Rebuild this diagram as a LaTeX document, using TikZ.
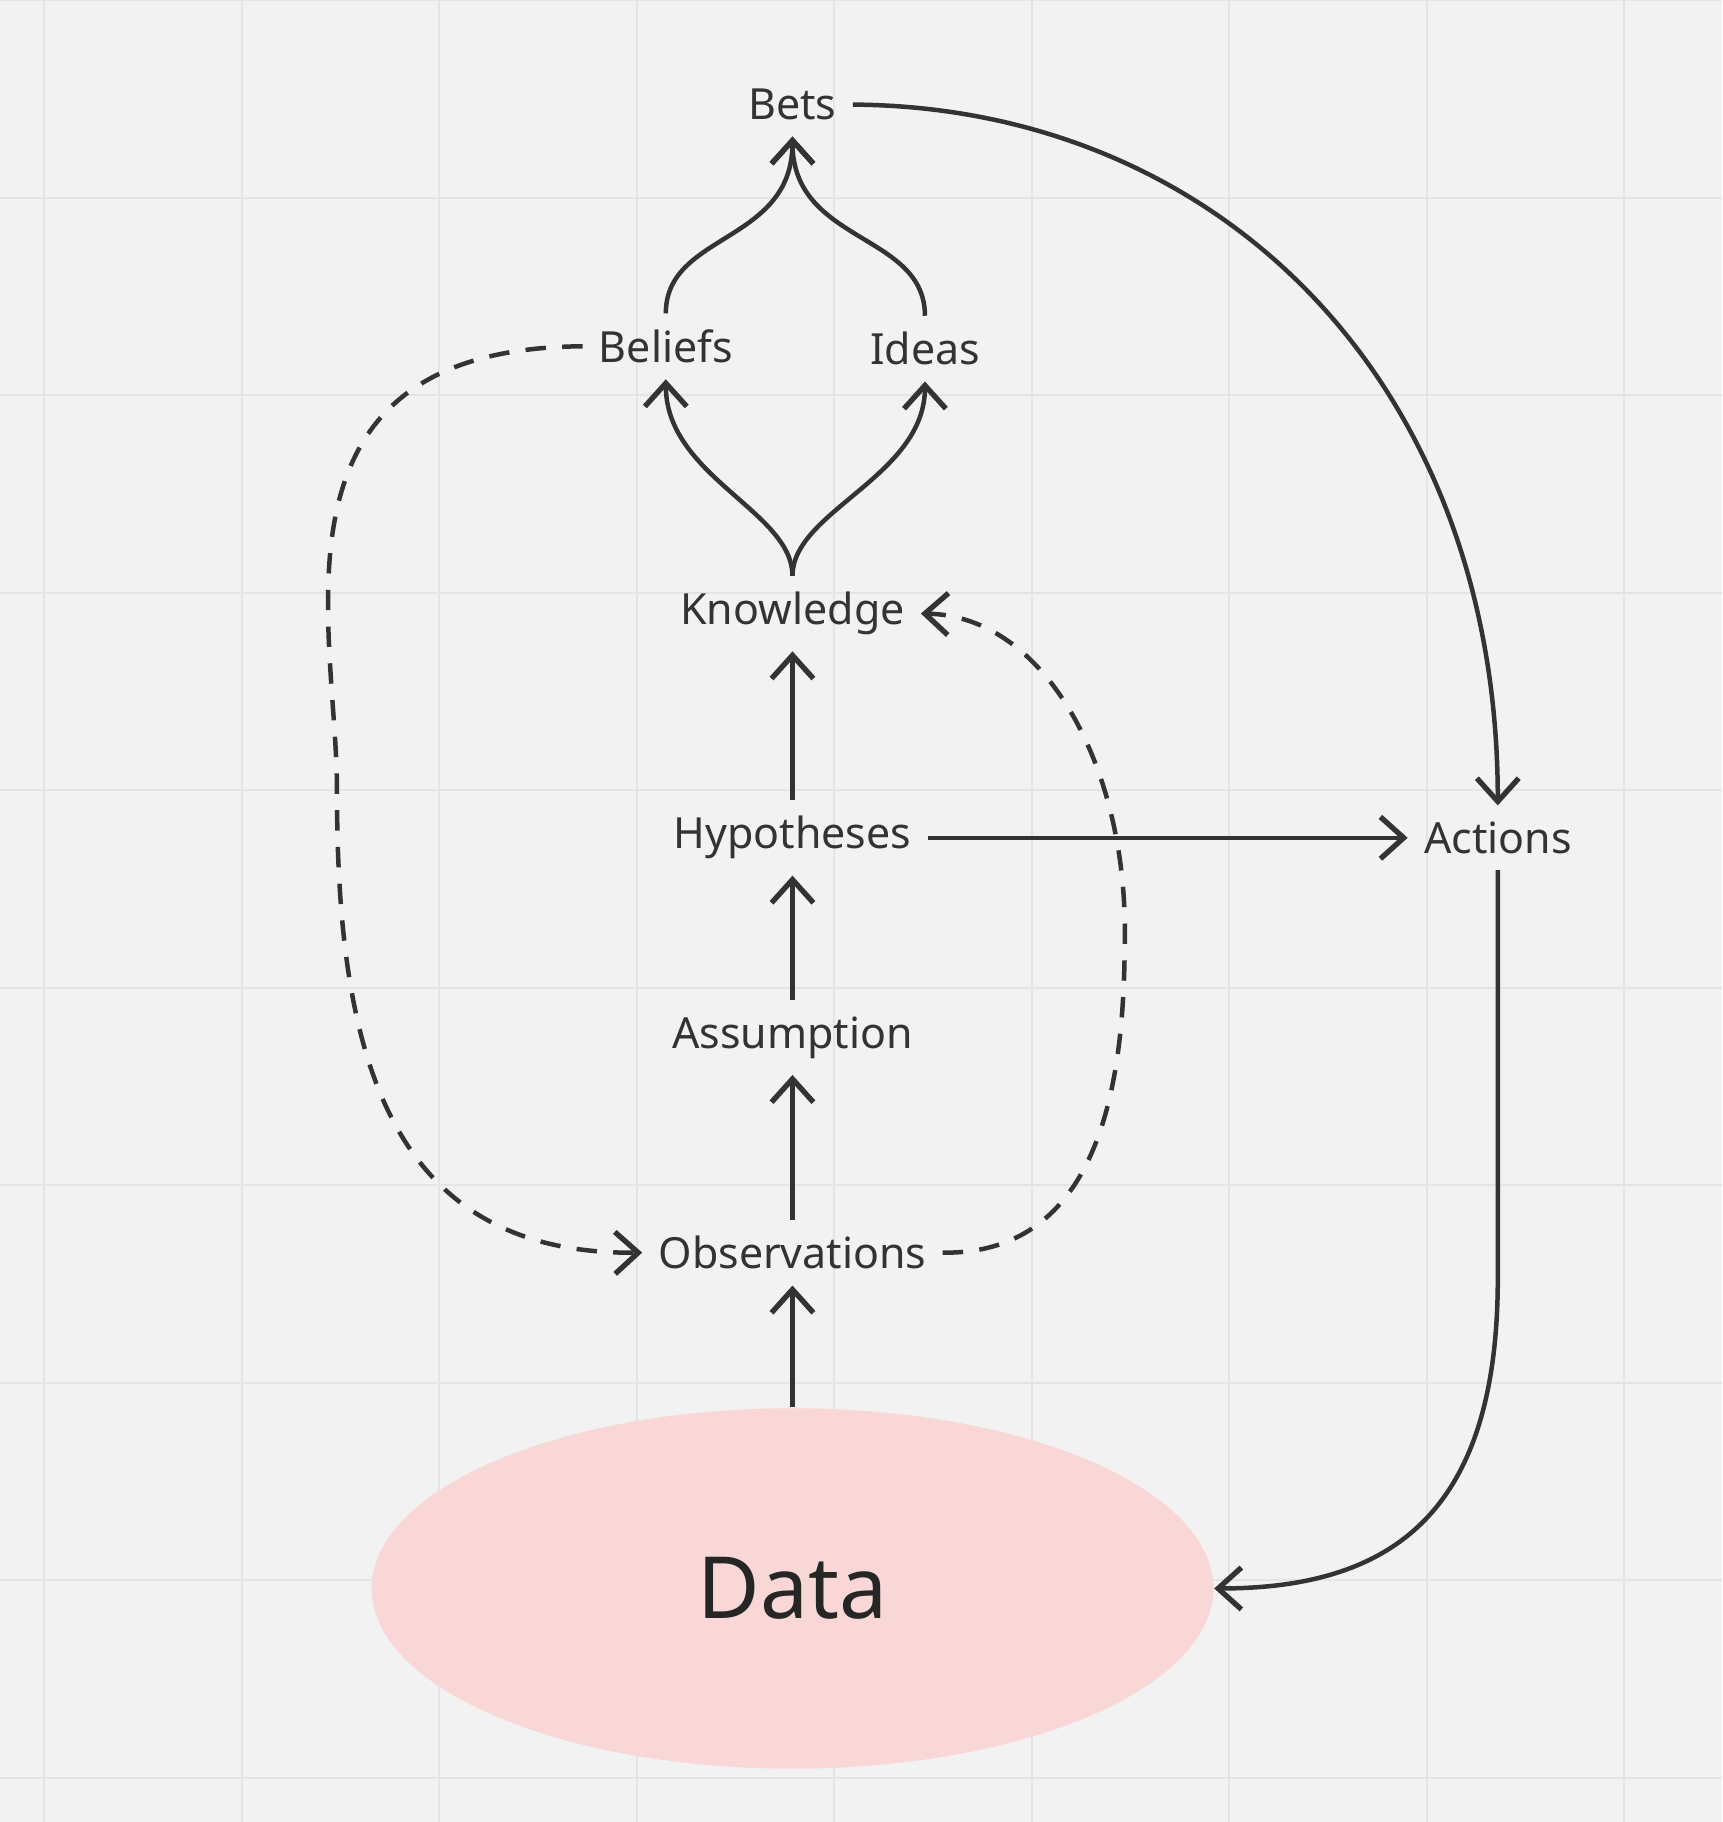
\documentclass[tikz,border=0pt]{standalone}
\usepackage{fontspec}
\setmainfont{Noto Sans}
\usetikzlibrary{arrows.meta,shapes.geometric}
\definecolor{bgcol}{HTML}{F2F2F2}
\definecolor{gridcol}{HTML}{E4E4E4}
\definecolor{inkcol}{HTML}{333333}
\definecolor{datacol}{HTML}{F8D7D6}
\tikzset{
  lbl/.style={inner sep=1pt, outer sep=3pt, font=\fontsize{10.5}{12}\selectfont, text=inkcol},
  flow/.style={draw=inkcol, line width=1.1pt, -{Straight Barb[length=2mm,width=3.6mm,line width=1.3pt]}},
  loop/.style={flow, dash pattern=on 5pt off 4pt}
}
\begin{document}
\begin{tikzpicture}[x=0.01cm,y=-0.01cm]
  \fill[bgcol] (0,0) rectangle (1482,1568);
  \useasboundingbox (0,0) rectangle (1482,1568);
  % grid
  \foreach \gx in {38,208,...,1482} \draw[gridcol, line width=0.5pt] (\gx,0) -- (\gx,1568);
  \foreach \gy in {0,170,...,1568} \draw[gridcol, line width=0.5pt] (0,\gy) -- (1482,\gy);

  \node (data) [ellipse, fill=datacol, minimum width=7.24cm, minimum height=3.1cm, inner sep=0,
    font=\fontsize{21}{24}\selectfont, text=black!85] at (682,1367) {Data};
  \node (bets) [lbl] at (682,90) {Bets};
  \node (beliefs) [lbl] at (573,298) {Beliefs};
  \node (ideas) [lbl] at (796,300) {Ideas};
  \node (knowledge) [lbl] at (682,528) {Knowledge};
  \node (hypotheses) [lbl] at (682,721) {Hypotheses};
  \node (assumption) [lbl] at (682,893) {Assumption};
  \node (observations) [lbl] at (682,1078) {Observations};
  \node (actions) [lbl] at (1289,721) {Actions};

  \draw[flow] (data.north) -- (observations.south);
  \draw[flow] (observations.north) -- (assumption.south);
  \draw[flow] (assumption.north) -- (hypotheses.south);
  \draw[flow] (hypotheses.north) -- (knowledge.south);
  \draw[flow] (knowledge.north) .. controls (682,440) and (573,410) .. (beliefs.south);
  \draw[flow] (knowledge.north) .. controls (682,440) and (796,410) .. (ideas.south);
  \draw[flow] (beliefs.north) .. controls (573,200) and (682,210) .. (bets.south);
  \draw[flow] (ideas.north) .. controls (796,200) and (682,210) .. (bets.south);
  \draw[flow] (bets.east) .. controls (1050,92) and (1289,330) .. (actions.north);
  \draw[flow] (hypotheses.east) -- (actions.west);
  \draw[flow] (actions.south) -- (1289,1100) .. controls (1289,1300) and (1200,1367) .. (data.east);
  \draw[loop] (beliefs.west) .. controls (220,300) and (290,540) .. (290,680)
    .. controls (290,900) and (330,1080) .. (observations.west);
  \draw[loop] (observations.east) .. controls (960,1080) and (968,900) .. (968,800)
    .. controls (968,660) and (900,530) .. (knowledge.east);
\end{tikzpicture}
\end{document}
